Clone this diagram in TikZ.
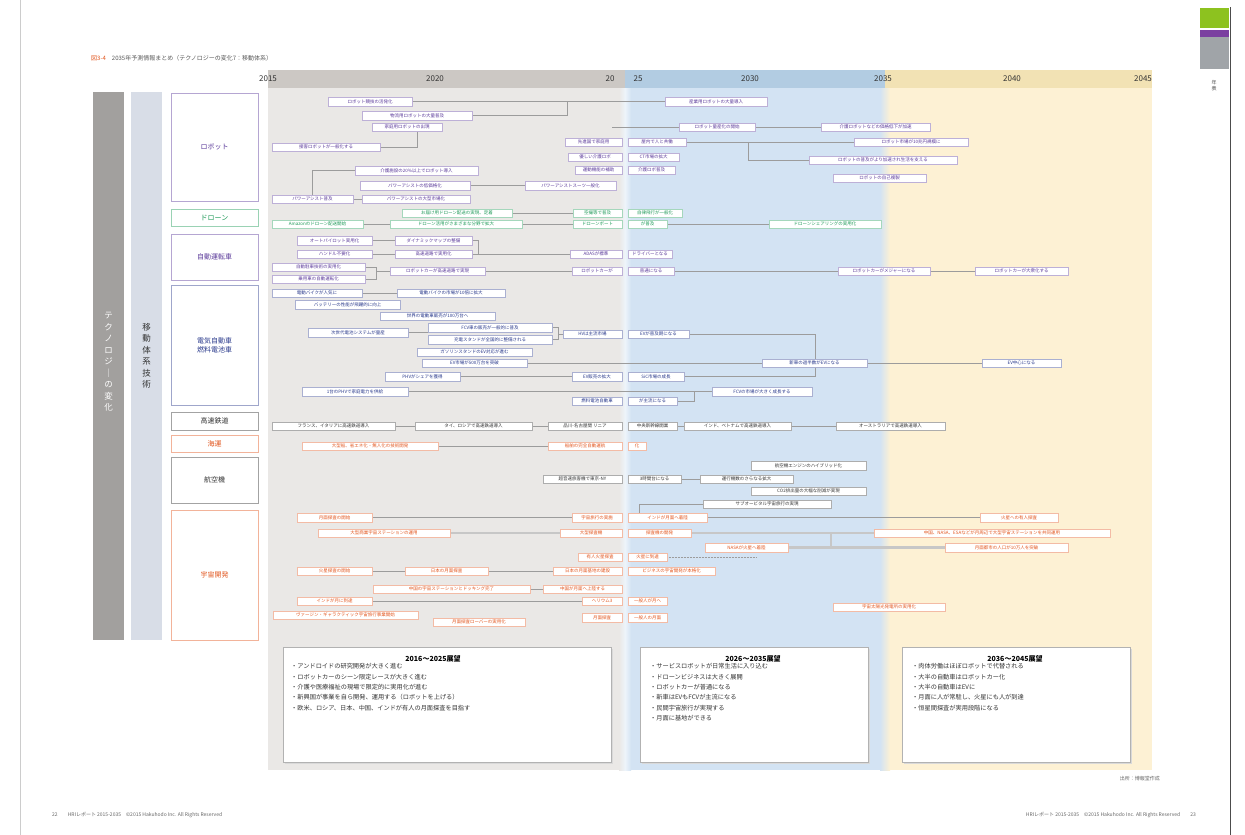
\documentclass[tikz,border=0pt]{standalone}
\usepackage{fontspec}
\setmainfont{Noto Sans CJK JP}
\usepackage{graphicx}
\usetikzlibrary{calc}
\definecolor{RBc}{HTML}{5B3A9A}
\definecolor{DGc}{HTML}{1E9A58}
\definecolor{EVc}{HTML}{2A3A8C}
\definecolor{BKc}{HTML}{333333}
\definecolor{ORc}{HTML}{E2561E}
\definecolor{regG}{HTML}{EAE8E6}
\definecolor{regB}{HTML}{D3E3F3}
\definecolor{regY}{HTML}{FDF1D4}
\definecolor{hdG}{HTML}{CCC8C4}
\definecolor{hdB}{HTML}{B2CCE2}
\definecolor{hdY}{HTML}{F2E2B4}
\definecolor{barD}{HTML}{A2A09E}
\definecolor{barL}{HTML}{D8DDE7}
\definecolor{lineC}{HTML}{9C9C9C}
\definecolor{tabG}{HTML}{8DC21F}
\definecolor{tabP}{HTML}{7B3FA0}
\definecolor{tabS}{HTML}{A0A4A8}
\pgfdeclarelayer{back}
\pgfdeclarelayer{mid}
\pgfsetlayers{back,mid,main}
\tikzset{
  ibox/.style={draw=#1!40, fill=white, text=#1, line width=0.4pt, inner sep=0pt,
    minimum height=8.5pt, font=\fontsize{4.5}{5}\selectfont},
  conn/.style={draw=lineC, line width=0.5pt},
  thickconn/.style={draw=black!22, line width=2.4pt},
  catbox/.style={draw=#1!45, fill=white, line width=0.7pt, text=#1,
    font=\fontsize{7}{9}\selectfont, align=center, inner sep=0pt},
  yr/.style={font=\fontsize{8}{9}\selectfont, text=BKc, inner sep=0pt},
  sumbox/.style={draw=black!30, fill=white, line width=0.5pt, inner sep=0pt},
  sumhead/.style={font=\fontsize{7}{8}\selectfont\bfseries, text=black, inner sep=0pt},
  sumtext/.style={font=\fontsize{6.2}{10.3}\selectfont, text=BKc, align=left, inner sep=0pt, anchor=north west},
  small/.style={font=\fontsize{5}{6}\selectfont, text=black!60, inner sep=0pt}
}
\newcommand{\ibx}[6]{\node[ibox=#5, minimum width={(#3)-(#2)}] (#1) at ({((#2)+(#3))/2},#4) {#6};}
\newcommand{\catb}[5]{\node[catbox=#4, minimum width=87pt, minimum height={(#3)-(#2)}] (#1) at (214.5,{((#2)+(#3))/2}) {#5};}
\begin{document}
\begin{tikzpicture}[x=1pt,y=-1pt]
\useasboundingbox (0,0) rectangle (1245,835);
\begin{pgfonlayer}{back}
  \fill[white] (0,0) rectangle (1245,835);
  \fill[regG] (268,88) rectangle (625,770);
  \fill[regB] (625,88) rectangle (885,770);
  \fill[regY] (885,88) rectangle (1152,770);
  \fill[hdG] (268,70) rectangle (625,88);
  \fill[hdB] (625,70) rectangle (885,88);
  \fill[hdY] (885,70) rectangle (1152,88);
  \shade[left color=regG, right color=regB, middle color=white!60!regB] (619,88) rectangle (631,770);
  \shade[left color=regB, right color=regY] (880,88) rectangle (890,770);
  \fill[barD] (93,92) rectangle (124,640);
  \fill[barL] (131,92) rectangle (162,640);
  \fill[tabG] (1200,8) rectangle (1229,28);
  \fill[tabP] (1200,30) rectangle (1229,37);
  \fill[tabS] (1200,37) rectangle (1229,69);
  \draw[black!70, line width=0.8pt] (1230,7) -- (1230,835);
  \draw[black!20, line width=0.5pt] (20,0) -- (20,835);
\end{pgfonlayer}

% title
\node[anchor=west, inner sep=0pt, font=\fontsize{6}{7}\selectfont] (title) at (91,58)
  {\textcolor{ORc}{図3-4}\quad\textcolor{black!65}{2035年予測情報まとめ（テクノロジーの変化7：移動体系）}};
\node[font=\fontsize{5}{6}\selectfont, text=black!70, align=center, inner sep=0pt] (tabtxt) at (1214,86) {年\\表};

% years
\node[yr] (y2015) at (268,79) {2015};
\node[yr] (y2020) at (435,79) {2020};
\node[yr] (y20) at (610,79) {20};
\node[yr] (y25) at (638,79) {25};
\node[yr] (y2030) at (750,79) {2030};
\node[yr] (y2035) at (883,79) {2035};
\node[yr] (y2040) at (1012,79) {2040};
\node[yr] (y2045) at (1143,79) {2045};

% vertical labels
\node[text=white, font=\fontsize{8.5}{11.5}\selectfont, align=center, inner sep=0pt] (vt1) at (108.5,362)
  {テ\\ク\\ノ\\ロ\\ジ\\｜\\の\\変\\化};
\node[text=BKc, font=\fontsize{8.5}{11.5}\selectfont, align=center, inner sep=0pt] (vt2) at (146.5,356)
  {移\\動\\体\\系\\技\\術};

% categories
\catb{cRobot}{93}{201}{RBc}{ロボット}
\catb{cDrone}{209}{226}{DGc}{ドローン}
\catb{cAuto}{234}{280}{RBc}{自動運転車}
\catb{cEV}{285}{405}{EVc}{電気自動車\\燃料電池車}
\catb{cRail}{412}{430}{BKc}{高速鉄道}
\catb{cShip}{435}{452}{ORc}{海運}
\catb{cAir}{457}{503}{BKc}{航空機}
\catb{cSpace}{510}{640}{ORc}{宇宙開発}

% robot
\ibx{rA}{328}{412}{101.5}{RBc}{ロボット競技の活発化}
\ibx{rB}{362}{472}{115.5}{RBc}{物流用ロボットの大量普及}
\ibx{rC}{372}{442}{127}{RBc}{家庭用ロボットの出現}
\ibx{rD}{272}{380}{147}{RBc}{接客ロボットが一般化する}
\ibx{rE}{355}{478}{170.5}{RBc}{介護施設の20\%以上でロボット導入}
\ibx{rF}{360}{470}{185.5}{RBc}{パワーアシストの低価格化}
\ibx{rG}{272}{353}{199}{RBc}{パワーアシスト普及}
\ibx{rH}{362}{470}{199}{RBc}{パワーアシストの大型市場化}
\ibx{rI}{525}{616}{185.5}{RBc}{パワーアシストスーツ一般化}
\ibx{rJ}{665}{767}{101.5}{RBc}{産業用ロボットの大量導入}
\ibx{rK}{679}{755}{127}{RBc}{ロボット量産化の開始}
\ibx{rL}{821}{930}{127}{RBc}{介護ロボットなどの価格低下が加速}
\ibx{rMa}{565}{622}{142}{RBc}{先進国で家庭用}
\ibx{rMb}{628}{686}{142}{RBc}{屋内で人と共働}
\ibx{rN}{854}{968}{142}{RBc}{ロボット市場が10兆円規模に}
\ibx{rO}{809}{957}{160}{RBc}{ロボットの普及がより加速され生活を支える}
\ibx{rPa}{568}{622}{157}{RBc}{優しい介護ロボ}
\ibx{rPb}{628}{679}{157}{RBc}{CT市場の拡大}
\ibx{rQa}{575}{622}{170}{RBc}{運動機能の補助}
\ibx{rQb}{628}{675}{170}{RBc}{介護ロボ普及}
\ibx{rR}{833}{926}{178}{RBc}{ロボットの自己複製}

% drone
\ibx{dK}{272}{363}{224}{DGc}{Amazonのドローン配送開始}
\ibx{dL}{402}{512}{213}{DGc}{お届け用ドローン配送の実現、定着}
\ibx{dM}{390}{522}{224}{DGc}{ドローン活用がさまざまな分野で拡大}
\ibx{dNa}{573}{622}{213}{DGc}{空撮等で普及}
\ibx{dNb}{628}{682}{213}{DGc}{自律飛行が一般化}
\ibx{dOa}{573}{622}{224}{DGc}{ドローンポート}
\ibx{dOb}{628}{667}{224}{DGc}{が普及}
\ibx{dP}{769}{881}{224}{DGc}{ドローンシェアリングの実用化}

% autonomous
\ibx{aP}{297}{372}{240.5}{RBc}{オートパイロット実用化}
\ibx{aQ}{297}{372}{254}{RBc}{ハンドル不要化}
\ibx{aR}{272}{365}{267}{RBc}{自動駐車技術の実用化}
\ibx{aS}{272}{365}{279}{RBc}{乗用車の自動運転化}
\ibx{aT}{395}{472}{240.5}{RBc}{ダイナミックマップの整備}
\ibx{aU}{395}{472}{254}{RBc}{高速道路で実用化}
\ibx{aV}{390}{485}{271}{RBc}{ロボットカーが高速道路で実現}
\ibx{aWa}{570}{622}{254}{RBc}{ADASが標準}
\ibx{aWb}{628}{672}{254}{RBc}{ドライバーとなる}
\ibx{aXa}{572}{622}{271}{RBc}{ロボットカーが}
\ibx{aXb}{628}{674}{271}{RBc}{普通になる}
\ibx{aY}{838}{930}{271}{RBc}{ロボットカーがメジャーになる}
\ibx{aZ}{975}{1068}{271}{RBc}{ロボットカーが大衆化する}

% EV
\ibx{eA}{272}{362}{293}{EVc}{電動バイクが人気に}
\ibx{eB}{397}{505}{293}{EVc}{電動バイクの市場が10倍に拡大}
\ibx{eC}{295}{400}{304.5}{EVc}{バッテリーの性能が飛躍的に向上}
\ibx{eD}{380}{495}{316}{EVc}{世界の電動車販売が100万台へ}
\ibx{eE}{308}{408}{332.5}{EVc}{次世代電池システムが量産}
\ibx{eF}{428}{552}{327.5}{EVc}{FCV車の販売が一般的に普及}
\ibx{eG}{428}{552}{339.5}{EVc}{充電スタンドが全国的に整備される}
\ibx{eHa}{563}{622}{334}{EVc}{HVは主流市場}
\ibx{eHb}{628}{689}{334}{EVc}{EVが普及期になる}
\ibx{eI}{417}{532}{352}{EVc}{ガソリンスタンドのEV対応が進む}
\ibx{eJ}{422}{527}{363}{EVc}{EV市場が500万台を突破}
\ibx{eKa}{572}{622}{376.5}{EVc}{EV販売の拡大}
\ibx{eKb}{628}{684}{376.5}{EVc}{SiC市場の成長}
\ibx{eL}{385}{460}{376.5}{EVc}{PHVがシェアを獲得}
\ibx{eM}{302}{408}{391.5}{EVc}{1台のPHVで家庭電力を供給}
\ibx{eNa}{572}{622}{401}{EVc}{燃料電池自動車}
\ibx{eNb}{628}{677}{401}{EVc}{が主流になる}
\ibx{eO}{712}{812}{391.5}{EVc}{FCVの市場が大きく成長する}
\ibx{eP}{762}{867}{363}{EVc}{新車の過半数がEVになる}
\ibx{eQ}{982}{1061}{363}{EVc}{EV中心になる}

% rail
\ibx{tA}{272}{395}{426}{BKc}{フランス、イタリアに高速鉄道導入}
\ibx{tB}{415}{532}{426}{BKc}{タイ、ロシアで高速鉄道導入}
\ibx{tCa}{548}{622}{426}{BKc}{品川-名古屋間 リニア}
\ibx{tCb}{628}{677}{426}{BKc}{中央新幹線開業}
\ibx{tD}{684}{791}{426}{BKc}{インド、ベトナムで高速鉄道導入}
\ibx{tE}{836}{945}{426}{BKc}{オーストラリアで高速鉄道導入}

% shipping
\ibx{sA}{302}{438}{446}{ORc}{大型船、省エネ化・無人化の技術開発}
\ibx{sBa}{548}{622}{446}{ORc}{船舶の完全自動運航}
\ibx{sBb}{628}{646}{446}{ORc}{化}

% aircraft
\ibx{fAa}{543}{622}{479}{BKc}{超音速旅客機で東京-NY}
\ibx{fAb}{628}{681}{479}{BKc}{3時間台になる}
\ibx{fB}{700}{793}{479}{BKc}{運行機数のさらなる拡大}
\ibx{fC}{751}{866}{465.5}{BKc}{航空機エンジンのハイブリッド化}
\ibx{fD}{751}{866}{491}{BKc}{CO2排出量の大幅な削減が実現}
\ibx{fE}{703}{831}{504}{BKc}{サブオービタル宇宙旅行の実現}

% space
\ibx{spA}{297}{372}{517.5}{ORc}{月面探査の開始}
\ibx{spBa}{572}{622}{517.5}{ORc}{宇宙旅行の実施}
\ibx{spBb}{628}{707}{517.5}{ORc}{インドが月面へ着陸}
\ibx{spC}{980}{1058}{517.5}{ORc}{火星への有人探査}
\ibx{spD}{318}{450}{533}{ORc}{大型商業宇宙ステーションの運用}
\ibx{spEa}{560}{622}{533}{ORc}{大型探査機}
\ibx{spEb}{628}{691}{533}{ORc}{探査機の開発}
\ibx{spF}{874}{1110}{533}{ORc}{中国、NASA、ESAなどが月周辺で大型宇宙ステーションを共同運用}
\ibx{spG}{705}{788}{547.5}{ORc}{NASAが火星へ着陸}
\ibx{spH}{945}{1068}{547.5}{ORc}{月面都市の人口が10万人を突破}
\ibx{spIa}{578}{622}{557}{ORc}{有人火星探査}
\ibx{spIb}{628}{667}{557}{ORc}{火星に到達}
\ibx{spJ}{297}{372}{571}{ORc}{火星探査の開始}
\ibx{spK}{405}{488}{571}{ORc}{日本の月面探査}
\ibx{spLa}{553}{622}{571}{ORc}{日本の月面基地の建設}
\ibx{spLb}{628}{715}{571}{ORc}{ビジネスの宇宙開発が本格化}
\ibx{spM}{373}{530}{589}{ORc}{中国の宇宙ステーションとドッキング完了}
\ibx{spN}{543}{622}{589}{ORc}{中国が月面へ上陸する}
\ibx{spO}{297}{372}{601}{ORc}{インドが月に到達}
\ibx{spPa}{582}{622}{601}{ORc}{ヘリウム3}
\ibx{spPb}{628}{667}{601}{ORc}{一般人が月へ}
\ibx{spQ}{273}{418}{615}{ORc}{ヴァージン・ギャラクティック宇宙旅行事業開始}
\ibx{spR}{433}{525}{622}{ORc}{月面探査ローバーの実用化}
\ibx{spSa}{582}{622}{617.5}{ORc}{月面探査}
\ibx{spSb}{628}{667}{617.5}{ORc}{一般人の月面}
\ibx{spT}{833}{945}{607}{ORc}{宇宙太陽光発電所の実用化}

% connectors
\begin{pgfonlayer}{mid}
  \coordinate (jAB) at (567,101.5);
  \coordinate (jCD) at (417,131);
  \coordinate (jKs) at (612,127);
  \coordinate (jMO) at (748,142);
  \draw[conn] (rA.east) -- (rJ.west);
  \draw[conn] (rB.east) -| (jAB);
  \draw[conn] (rD.east) -| (jCD);
  \draw[conn] (jKs) -- (rK.west);
  \draw[conn] (rK.east) -- (rL.west);
  \draw[conn] (rMb.east) -- (rN.west);
  \draw[conn] (jMO) |- (rO.west);
  \draw[conn] (rG.north) |- (rE.west);
  \draw[conn] (rG.east) -- (rH.west);
  \draw[conn] (rF.east) -- (rI.west);

  \draw[conn] (dK.east) -- (dM.west);
  \draw[conn] (dL.east) -- (dNa.west);
  \draw[conn] (dM.east) -- (dOa.west);
  \draw[conn] (dOb.east) -- (dP.west);

  \coordinate (jRS) at (376,271);
  \coordinate (jTU) at (478,254);
  \draw[conn] (aP.east) -- (aT.west);
  \draw[conn] (aQ.east) -- (aU.west);
  \draw[conn] (aR.east) -| (jRS);
  \draw[conn] (aS.east) -| (jRS);
  \draw[conn] (jRS) -- (aV.west);
  \draw[conn] (aT.east) -| (jTU);
  \draw[conn] (aU.east) -- (aWa.west);
  \draw[conn] (aV.east) -- (aXa.west);
  \draw[conn] (aXb.east) -- (aY.west);
  \draw[conn] (aY.east) -- (aZ.west);

  \coordinate (jFG) at (558,334);
  \coordinate (jH) at (815,334);
  \coordinate (jK2) at (815,376.5);
  \coordinate (jMN) at (694,391.5);
  \draw[conn] (eA.east) -- (eB.west);
  \draw[conn] (eE.east) -- (eE.east -| eF.west);
  \draw[conn] (eF.east) -| (jFG);
  \draw[conn] (eG.east) -| (jFG);
  \draw[conn] (jFG) -- (eHa.west);
  \draw[conn] (eHb.east) -- (jH) -- (jK2) -- (eKb.east);
  \draw[conn] (eJ.east) -- (eP.west);
  \draw[conn] (eL.east) -- (eKa.west);
  \draw[conn] (eM.east) -- (eO.west);
  \draw[conn] (eNb.east) -| (jMN);
  \draw[conn] (eP.east) -- (eQ.west);

  \draw[conn] (tA.east) -- (tB.west);
  \draw[conn] (tB.east) -- (tCa.west);
  \draw[conn] (tCb.east) -- (tD.west);
  \draw[conn] (tD.east) -- (tE.west);

  \draw[conn] (sA.east) -- (sBa.west);

  \coordinate (jE) at (639,513);
  \draw[conn] (fAb.east) -- (fB.west);
  \draw[conn] (fE.west) -| (jE);

  \coordinate (jV1) at (831,533);
  \coordinate (jV2) at (831,547.5);
  \coordinate (jI) at (757,557);
  \draw[conn] (spA.east) -- (spBa.west);
  \draw[conn] (spBb.east) -- (spC.west);
  \draw[thickconn] (spD.east) -- (spEa.west);
  \draw[thickconn] (spEb.east) -- (spF.west);
  \draw[thickconn] (spG.east) -- (spH.west);
  \draw[thickconn] (jV1) -- (jV2);
  \draw[conn, densely dotted] (spIb.east) -- (jI);
  \draw[conn] (spJ.east) -- (spK.west);
  \draw[conn] (spK.east) -- (spLa.west);
  \draw[conn] (spM.east) -- (spN.west);
  \draw[conn] (spO.east) -- (spPa.west);
\end{pgfonlayer}

% summary boxes
\fill[black!15] (285,649) rectangle (613,764);
\node[sumbox, minimum width=328pt, minimum height=115pt] (sum1) at (447,704.5) {};
\fill[black!15] (642,649) rectangle (870,764);
\node[sumbox, minimum width=228pt, minimum height=115pt] (sum2) at (754,704.5) {};
\fill[black!15] (904,649) rectangle (1132,764);
\node[sumbox, minimum width=228pt, minimum height=115pt] (sum3) at (1016,704.5) {};

\node[sumhead] (h1) at (433,659) {2016～2025展望};
\node[sumhead] (h2) at (753,659) {2026～2035展望};
\node[sumhead] (h3) at (1015,659) {2036～2045展望};

\node[sumtext] (t1) at (291,663.5) {・アンドロイドの研究開発が大きく進む\\
・ロボットカーのシーン限定レースが大きく進む\\
・介護や医療福祉の現場で限定的に実用化が進む\\
・新興国が事業を自ら開発、運用する（ロボットを上げる）\\
・欧米、ロシア、日本、中国、インドが有人の月面探査を目指す};
\node[sumtext] (t2) at (650,663.5) {・サービスロボットが日常生活に入り込む\\
・ドローンビジネスは大きく展開\\
・ロボットカーが普通になる\\
・新車はEVもFCVが主流になる\\
・民間宇宙旅行が実現する\\
・月面に基地ができる};
\node[sumtext] (t3) at (912,663.5) {・肉体労働はほぼロボットで代替される\\
・大半の自動車はロボットカー化\\
・大半の自動車はEVに\\
・月面に人が常駐し、火星にも人が到達\\
・恒星間探査が実用段階になる};

% source and footer
\node[small, anchor=east] (src) at (1160,779) {出所：博報堂作成};
\node[small, anchor=west] (pl) at (52,815) {22\qquad HRIレポート 2015-2035\quad ©2015 Hakuhodo Inc. All Rights Reserved};
\node[small, anchor=east] (pr) at (1196,815) {HRIレポート 2015-2035\quad ©2015 Hakuhodo Inc. All Rights Reserved\qquad 23};
\end{tikzpicture}
\end{document}
